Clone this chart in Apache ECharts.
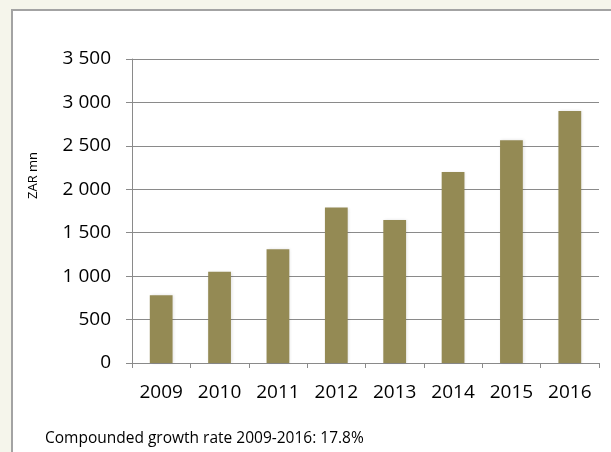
<!DOCTYPE html>
<html>
<head>
<meta charset="utf-8">
<script src="https://cdn.jsdelivr.net/npm/echarts@6/dist/echarts.min.js"></script>
<style>
  html, body { margin: 0; padding: 0; background: #f5f5eb; }
  #chart { width: 611px; height: 452px; }
</style>
</head>
<body>
<div id="chart"></div>
<script>
const categories = ['2009', '2010', '2011', '2012', '2013', '2014', '2015', '2016'];
const values = [780, 1050, 1310, 1790, 1645, 2200, 2565, 2900];
const yTicks = { min: 0, max: 3500, interval: 500 };
const yAxisTitle = 'ZAR mn';
const footnote = 'Compounded growth rate 2009-2016: 17.8%';

const FONT = '"Open Sans", "DejaVu Sans", sans-serif';
const chart = echarts.init(document.getElementById('chart'), null, { renderer: 'canvas' });

chart.setOption({
  backgroundColor: '#f5f5eb',
  animation: false,
  graphic: [
    {
      type: 'rect',
      z: -10,
      shape: { x: 12, y: 10, width: 640, height: 480 },
      style: { fill: '#ffffff', stroke: '#a3a3a3', lineWidth: 2 }
    },
    {
      type: 'text',
      x: 33.5, y: 175.5,
      rotation: Math.PI / 2,
      style: {
        text: yAxisTitle,
        font: '13px ' + FONT,
        fill: '#000',
        textAlign: 'center',
        textVerticalAlign: 'middle'
      }
    },
    {
      type: 'text',
      x: 45, y: 439,
      style: {
        text: footnote,
        font: '15.5px ' + FONT,
        fill: '#000',
        textAlign: 'left',
        textVerticalAlign: 'middle'
      }
    }
  ],
  grid: { left: 132, right: 12, top: 59, bottom: 89, containLabel: false },
  xAxis: {
    type: 'category',
    data: categories,
    axisLine: { show: true, lineStyle: { color: '#8a8a8a', width: 1 } },
    axisTick: { show: true, length: 5, lineStyle: { color: '#8a8a8a' } },
    axisLabel: { color: '#000', fontFamily: FONT, fontSize: 19, margin: 20 },
    splitLine: { show: false }
  },
  yAxis: {
    type: 'value',
    min: yTicks.min, max: yTicks.max, interval: yTicks.interval,
    axisLine: { show: true, lineStyle: { color: '#8a8a8a', width: 1 } },
    axisTick: { show: true, length: 6, lineStyle: { color: '#8a8a8a' } },
    axisLabel: {
      color: '#000', fontFamily: FONT, fontSize: 19, margin: 21,
      formatter: v => String(v).replace(/\B(?=(\d{3})+(?!\d))/g, ' ')
    },
    splitLine: { show: true, lineStyle: { color: '#8a8a8a', width: 1 } }
  },
  series: [{
    type: 'bar',
    data: values,
    barWidth: '39%',
    itemStyle: {
      color: '#948a54',
      shadowColor: 'rgba(0,0,0,0.12)',
      shadowBlur: 3,
      shadowOffsetX: 1
    }
  }]
});
</script>
</body>
</html>
